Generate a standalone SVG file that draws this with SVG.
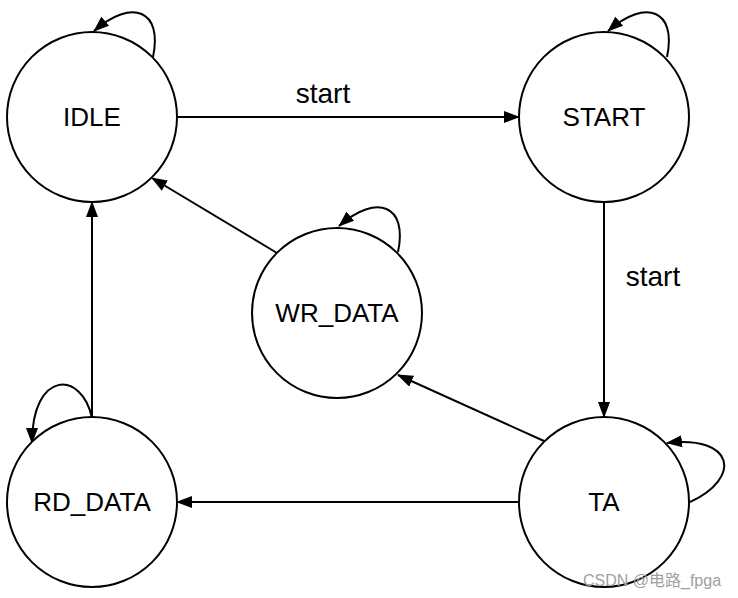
<svg xmlns="http://www.w3.org/2000/svg" width="738" height="598" viewBox="0 0 738 598">
<style>
.node circle{fill:#fff;stroke:#000;stroke-width:2}
text{font-family:"Liberation Sans",Arial,sans-serif;font-size:26px;fill:#000}
.lbl{text-anchor:middle;dominant-baseline:central}
.elbl{font-size:28px}
.edge{fill:none;stroke:#000;stroke-width:2;marker-end:url(#ah)}
.wm{font-size:16px;fill:#a0a0a0;font-family:"Liberation Sans","Noto Sans CJK SC",sans-serif}
</style>
<defs>
<marker id="ah" markerWidth="16" markerHeight="12" refX="15" refY="6" orient="auto" markerUnits="userSpaceOnUse">
<path d="M0,0 L16,6 L0,12 Z" fill="#000"/>
</marker>
</defs>
<rect width="738" height="598" fill="#fff"/>
<g id="edges">
<path class="edge" d="M177,117 L519,117"/>
<path class="edge" d="M604,202 L604,417"/>
<path class="edge" d="M519,502 L177,502"/>
<path class="edge" d="M92,417 L92,202"/>
<path class="edge" d="M277,253 L152,178"/>
<path class="edge" d="M544,441 L398,375"/>
<path class="edge" d="M153,57 C163,10 132,-2 94,31"/>
<path class="edge" d="M667,57 C677,10 646,-2 608,31"/>
<path class="edge" d="M398,252 C408,205 377,193 339,226"/>
<path class="edge" d="M92,418 C82,370 32,370 32,443"/>
<path class="edge" d="M690,502 C742,478 735,435 667,443"/>
<text x="323" y="93" class="lbl elbl">start</text>
<text x="653" y="276" class="lbl elbl">start</text>
</g>
<g id="IDLE" class="node"><circle cx="92" cy="117" r="85"/><text x="92" y="117" class="lbl">IDLE</text></g>
<g id="START" class="node"><circle cx="604" cy="117" r="85"/><text x="604" y="117" class="lbl">START</text></g>
<g id="WR_DATA" class="node"><circle cx="337" cy="313" r="85"/><text x="337" y="313" class="lbl">WR_DATA</text></g>
<g id="RD_DATA" class="node"><circle cx="92" cy="502" r="85"/><text x="92" y="502" class="lbl">RD_DATA</text></g>
<g id="TA" class="node"><circle cx="604" cy="502" r="85"/><text x="604" y="502" class="lbl">TA</text></g>
<text x="583" y="586" class="wm">CSDN @电路_fpga</text>
</svg>
